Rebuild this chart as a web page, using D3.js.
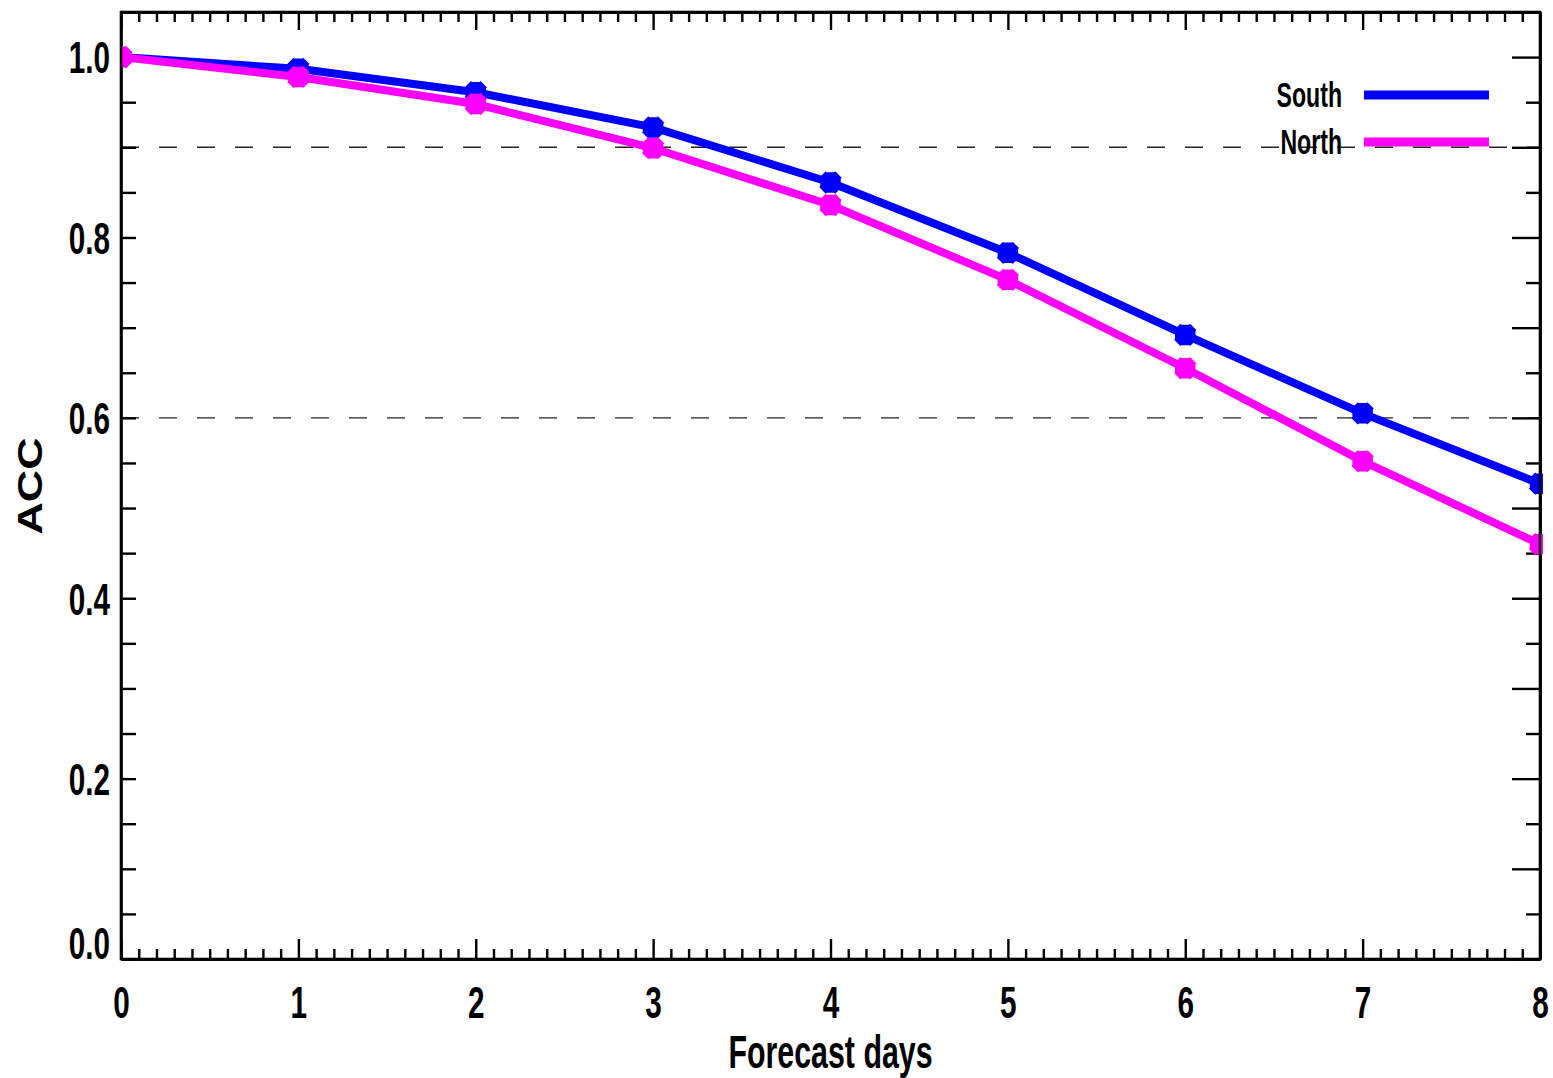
<!DOCTYPE html>
<html>
<head>
<meta charset="utf-8">
<script src="https://cdn.jsdelivr.net/npm/d3@7"></script>
<style>
  body { margin: 0; background: #fff; }
  text { font-family: "Liberation Sans", Arial, sans-serif; font-weight: bold; fill: #000; }
</style>
</head>
<body>
<div id="chart"></div>
<script>
// Data
const days = [0, 1, 2, 3, 4, 5, 6, 7, 8];
const south = [1.000, 0.987, 0.961, 0.922, 0.861, 0.783, 0.692, 0.605, 0.527];
const north = [1.000, 0.978, 0.948, 0.899, 0.836, 0.753, 0.655, 0.552, 0.460];
const refLines = [0.9, 0.6];
const yTickValues = [0.0, 0.2, 0.4, 0.6, 0.8, 1.0];
const seriesNames = ["South", "North"];
const seriesColors = ["#0000ff", "#ff00ff"];

// SVG constants
const width = 1553, height = 1078;
const margin = { top: 12, right: 13, bottom: 119, left: 121 };
const squeeze = 0.66;   // narrow lettering like the original plot

const x = d3.scaleLinear().domain([0, 8]).range([margin.left, width - margin.right]);
const y = d3.scaleLinear().domain([0, 1.05]).range([height - margin.bottom, margin.top]);

const svg = d3.select("#chart").append("svg")
  .attr("width", width)
  .attr("height", height);

svg.append("clipPath").attr("id", "plot-clip")
  .append("rect")
  .attr("x", x(0)).attr("y", y(1.05))
  .attr("width", x(8) - x(0) + 3).attr("height", y(0) - y(1.05));

// dashed reference lines
svg.append("g").selectAll("line")
  .data(refLines)
  .join("line")
  .attr("x1", x(0)).attr("x2", x(8))
  .attr("y1", d => y(d)).attr("y2", d => y(d))
  .attr("stroke", "#222")
  .attr("stroke-width", 1.4)
  .attr("stroke-dasharray", "18,20");

// axes: ticks all point inward
const minorX = d3.range(0, 80.5).map(i => i / 10).filter(v => Math.abs(v - Math.round(v)) > 1e-6);
const minorY = d3.range(0, 21).map(i => i / 20);

function styleAxis(g) {
  g.select(".domain").attr("stroke", "#000").attr("stroke-width", 2.6);
  g.selectAll(".tick line").attr("stroke", "#000").attr("stroke-width", 2.4);
}

// bottom
svg.append("g")
  .attr("transform", `translate(0,${y(0)})`)
  .call(d3.axisBottom(x).tickValues(minorX).tickSize(-10).tickSizeOuter(0).tickFormat(""))
  .call(styleAxis);
svg.append("g")
  .attr("transform", `translate(0,${y(0)})`)
  .call(d3.axisBottom(x).tickValues(days).tickSize(-20).tickSizeOuter(0).tickFormat(d3.format("d")))
  .call(styleAxis)
  .call(g => g.selectAll(".tick text")
    .attr("y", 59).attr("dy", 0)
    .attr("font-size", 45)
    .attr("transform", `scale(${squeeze},1)`));

// top
svg.append("g")
  .attr("transform", `translate(0,${y(1.05)})`)
  .call(d3.axisTop(x).tickValues(minorX).tickSize(-10).tickSizeOuter(0).tickFormat(""))
  .call(styleAxis);
svg.append("g")
  .attr("transform", `translate(0,${y(1.05)})`)
  .call(d3.axisTop(x).tickValues(days).tickSize(-18).tickSizeOuter(0).tickFormat(""))
  .call(styleAxis);

// left
svg.append("g")
  .attr("transform", `translate(${x(0)},0)`)
  .call(d3.axisLeft(y).tickValues(minorY).tickSize(-15).tickSizeOuter(0).tickFormat(""))
  .call(styleAxis);
svg.append("g")
  .attr("transform", `translate(${x(0)},0)`)
  .call(d3.axisLeft(y).tickValues(yTickValues).tickSize(0).tickSizeOuter(0).tickFormat(d3.format(".1f")))
  .call(g => g.select(".domain").remove())
  .call(g => g.selectAll(".tick text")
    .attr("x", -11 / squeeze)
    .attr("dy", d => d === 0 ? "-0.02em" : "0.35em")
    .attr("font-size", 45)
    .attr("transform", `scale(${squeeze},1)`));

// right
svg.append("g")
  .attr("transform", `translate(${x(8)},0)`)
  .call(d3.axisRight(y).tickValues(minorY.filter((v, i) => i % 2 === 1)).tickSize(-14).tickSizeOuter(0).tickFormat(""))
  .call(styleAxis);
svg.append("g")
  .attr("transform", `translate(${x(8)},0)`)
  .call(d3.axisRight(y).tickValues(minorY.filter((v, i) => i % 2 === 0)).tickSize(-28).tickSizeOuter(0).tickFormat(""))
  .call(styleAxis);

// series lines and markers
const asterisk = {
  draw(ctx, size) {
    const r = Math.sqrt(size) / 2, d = r * 0.78;
    ctx.moveTo(-r, 0); ctx.lineTo(r, 0);
    ctx.moveTo(0, -r); ctx.lineTo(0, r);
    ctx.moveTo(-d, -d); ctx.lineTo(d, d);
    ctx.moveTo(-d, d); ctx.lineTo(d, -d);
  }
};

const line = d3.line()
  .x((d, i) => x(days[i]))
  .y(d => y(d));

const plot = svg.append("g").attr("clip-path", "url(#plot-clip)");
[south, north].forEach((vals, k) => {
  plot.append("path")
    .datum(vals)
    .attr("fill", "none")
    .attr("stroke", seriesColors[k])
    .attr("stroke-width", 8)
    .attr("stroke-linejoin", "round")
    .attr("d", line);
  plot.append("g").selectAll("path")
    .data(vals)
    .join("path")
    .attr("transform", (d, i) => `translate(${x(days[i])},${y(d)})`)
    .attr("d", d3.symbol().type(asterisk).size(420))
    .attr("fill", "none")
    .attr("stroke", seriesColors[k])
    .attr("stroke-width", 9);
});

// frame on top so the markers don't hide it
svg.append("rect")
  .attr("x", x(0)).attr("y", y(1.05))
  .attr("width", x(8) - x(0)).attr("height", y(0) - y(1.05))
  .attr("fill", "none")
  .attr("stroke", "#000")
  .attr("stroke-width", 2.6);

// legend
const legend = svg.append("g");
seriesNames.forEach((name, k) => {
  const ly = 95 + k * 47;
  legend.append("line")
    .attr("x1", 1364).attr("x2", 1489)
    .attr("y1", ly).attr("y2", ly)
    .attr("stroke", seriesColors[k])
    .attr("stroke-width", 9);
  legend.append("text")
    .attr("transform", `translate(1342,${ly + 12}) scale(${squeeze},1)`)
    .attr("text-anchor", "end")
    .attr("font-size", 35)
    .text(name);
});

// axis titles
svg.append("text")
  .attr("transform", `translate(${x(4)},1068) scale(${squeeze},1)`)
  .attr("text-anchor", "middle")
  .attr("font-size", 46)
  .text("Forecast days");

svg.append("text")
  .attr("transform", "translate(42,486) rotate(-90)")
  .attr("text-anchor", "middle")
  .attr("font-size", 35)
  .attr("textLength", 97)
  .attr("lengthAdjust", "spacingAndGlyphs")
  .text("ACC");
</script>
</body>
</html>
